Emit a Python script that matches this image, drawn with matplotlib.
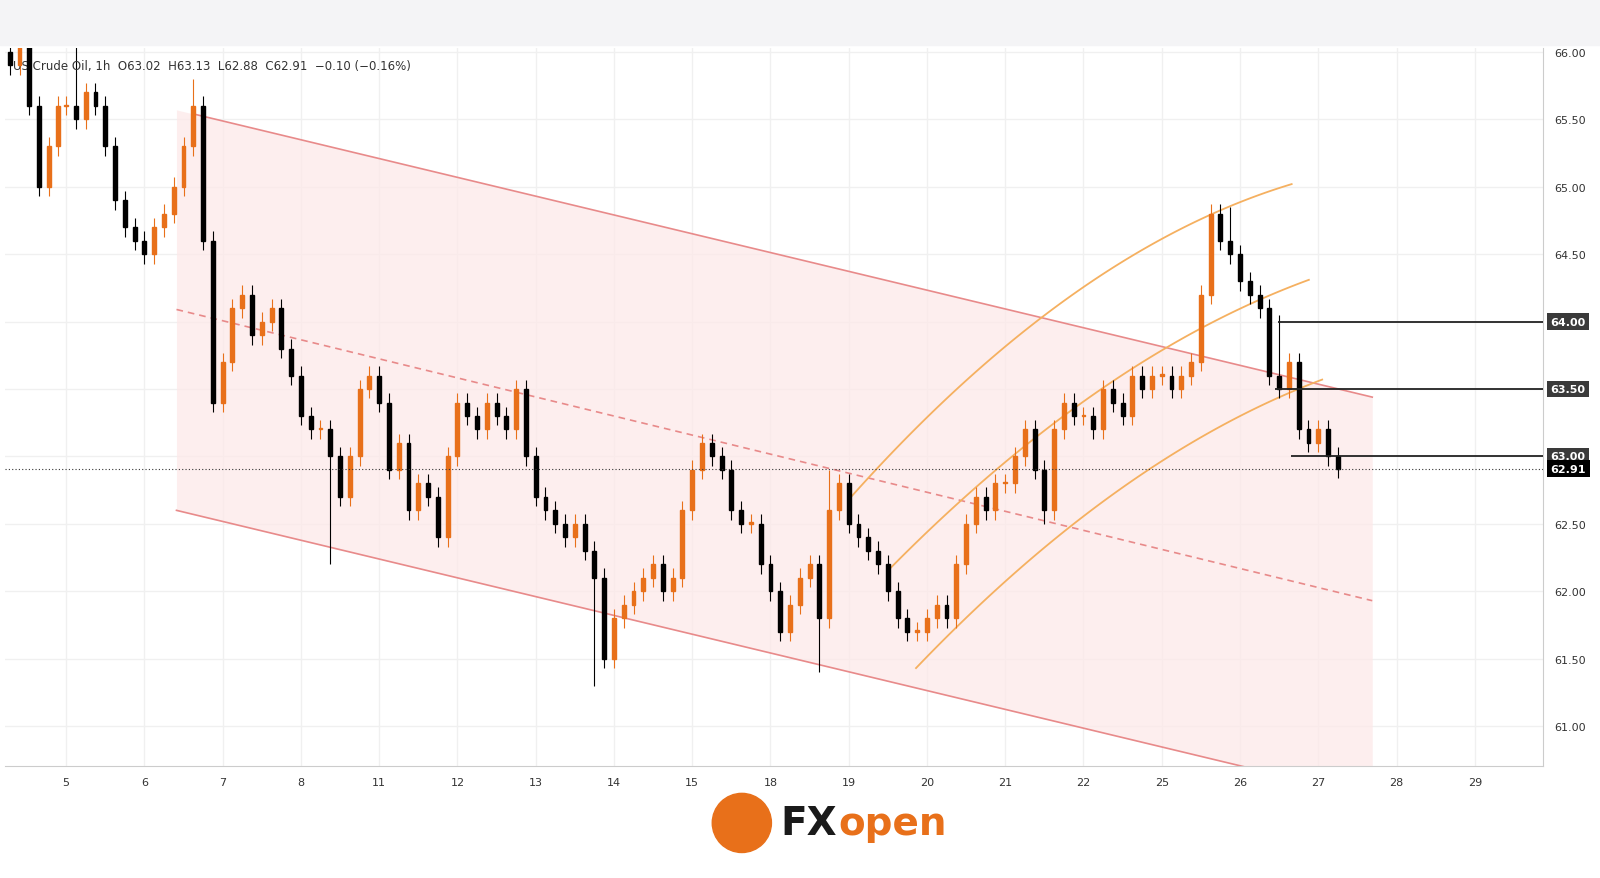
import numpy as np
import matplotlib.pyplot as plt
from matplotlib.patches import Rectangle, Ellipse

# closes, 8 candles per trading day; first candles belong to day before "5"
day_labels = ['5', '6', '7', '8', '11', '12', '13', '14', '15', '18', '19', '20', '21', '22', '25', '26', '27', '28', '29']
pre = [65.9, 66.1, 65.6, 65.0, 65.3, 65.6]
closes = [
    65.6, 65.5, 65.7, 65.6, 65.3, 64.9, 64.7, 64.6,
    64.5, 64.7, 64.8, 65.0, 65.3, 65.6, 64.6, 63.4,
    63.7, 64.1, 64.2, 63.9, 64.0, 64.1, 63.8, 63.6,
    63.3, 63.2, 63.2, 63.0, 62.7, 63.0, 63.5, 63.6,
    63.4, 62.9, 63.1, 62.6, 62.8, 62.7, 62.4, 63.0,
    63.4, 63.3, 63.2, 63.4, 63.3, 63.2, 63.5, 63.0,
    62.7, 62.6, 62.5, 62.4, 62.5, 62.3, 62.1, 61.5,
    61.8, 61.9, 62.0, 62.1, 62.2, 62.0, 62.1, 62.6,
    62.9, 63.1, 63.0, 62.9, 62.6, 62.5, 62.5, 62.2,
    62.0, 61.7, 61.9, 62.1, 62.2, 61.8, 62.6, 62.8,
    62.5, 62.4, 62.3, 62.2, 62.0, 61.8, 61.7, 61.7,
    61.8, 61.9, 61.8, 62.2, 62.5, 62.7, 62.6, 62.8,
    62.8, 63.0, 63.2, 62.9, 62.6, 63.2, 63.4, 63.3,
    63.3, 63.2, 63.5, 63.4, 63.3, 63.6, 63.5, 63.6,
    63.6, 63.5, 63.6, 63.7, 64.2, 64.8, 64.6, 64.5,
    64.3, 64.2, 64.1, 63.6, 63.5, 63.7, 63.2, 63.1,
    63.2, 63.0, 62.91,
]
spike_idx = [1, 13, 27, 54, 77, 78, 100, 119, 124]
spike_val = [66.3, 65.8, 62.2, 61.3, 61.4, 62.9, 62.5, 64.85, 64.05]

# upper / lower / mid of falling channel (day position, price)
up_x, up_y = [1.63, 16.69], [65.54, 63.44]
lo_x, lo_y = [1.41, 16.69], [62.60, 60.47]
mid_x, mid_y = [1.41, 16.69], [64.09, 61.93]
# rising curved channel, three points each
arc_x = [[10.0, 12.2, 15.66], [10.53, 12.84, 15.88], [10.86, 13.5, 16.05]]
arc_y = [[62.68, 63.91, 65.02], [62.17, 63.34, 64.31], [61.43, 62.77, 63.57]]
levels = [64.00, 63.50, 63.00]
level_x0 = [15.49, 15.45, 15.65]
last = 62.91

ORANGE = '#e8701a'
W, H = 1568, 862  # reference pixel frame used for layout fractions
allc = pre + closes
n_pre = len(pre)
xs = np.concatenate([np.linspace(-0.72, -0.1, n_pre), np.arange(len(closes)) / 8.0])
opens = [allc[0] + 0.1] + allc[:-1]
highs = [max(o, c) + 0.07 for o, c in zip(opens, allc)]
lows = [min(o, c) - 0.07 for o, c in zip(opens, allc)]
for i, v in zip(spike_idx, spike_val):
    j = i + n_pre
    if v > allc[j]:
        highs[j] = v
    else:
        lows[j] = v

fig = plt.figure(figsize=(16, 8.79), dpi=100)
fig.patches.append(Rectangle((0, 1 - 45 / H), 1, 45 / H, transform=fig.transFigure, color='#f4f4f6', zorder=0))
ax = fig.add_axes([5 / W, (H - 752) / H, 1507 / W, 704 / H])
ax.set_xlim(-0.78, 18.87)
ax.set_ylim(60.705, 66.03)

# channel fill
fx = np.array([1.41, 16.69])
uy = np.interp(fx, up_x, up_y, left=np.polyval(np.polyfit(up_x, up_y, 1), 1.41))
ly = np.interp(fx, lo_x, lo_y)
ax.fill_between(fx, ly, uy, color='#fde8e8', alpha=0.7, zorder=1, lw=0)
ax.plot(up_x, up_y, color='#e88a8a', lw=1.2, zorder=2)
ax.plot(lo_x, lo_y, color='#e88a8a', lw=1.2, zorder=2)
ax.plot(mid_x, mid_y, color='#e88a8a', lw=1.2, ls=(0, (4, 3)), zorder=2)
for ax_, ay_ in zip(arc_x, arc_y):
    p = np.polyfit(ax_, ay_, 2)
    t = np.linspace(ax_[0], ax_[-1], 100)
    ax.plot(t, np.polyval(p, t), color='#f5b060', lw=1.3, zorder=2)

for x, o, h, l, c in zip(xs, opens, highs, lows, allc):
    col = ORANGE if c >= o else 'black'
    ax.vlines(x, l, h, color=col, lw=0.8, zorder=3)
    ax.add_patch(Rectangle((x - 0.025, min(o, c)), 0.05, max(abs(c - o), 0.01), color=col, zorder=4))

for lv, x0 in zip(levels, level_x0):
    ax.hlines(lv, x0, 18.87, color='#222222', lw=1.3, zorder=5)
ax.axhline(last, color='#333333', lw=0.8, ls=(0, (1, 2)), zorder=5)

ax.set_xticks(range(len(day_labels)))
ax.set_xticklabels(day_labels)
yt = np.arange(61, 66.01, 0.5)
ax.set_yticks(yt)
ax.set_yticklabels(['' if round(v, 2) in levels else '%.2f' % v for v in yt])
ax.yaxis.tick_right()
ax.tick_params(length=0, labelsize=8, colors='#333333', pad=8)
ax.grid(color='#f0f0f0', lw=1)
ax.set_axisbelow(True)
for s in ['top', 'left']:
    ax.spines[s].set_visible(False)
for s in ['right', 'bottom']:
    ax.spines[s].set_color('#cccccc')

for lv, bg in zip(levels + [last], ['#3a3a3a'] * 3 + ['#000000']):
    ax.text(18.87 + 0.1, lv, '%.2f' % lv, transform=ax.transData, fontsize=8, color='white',
            fontweight='bold', va='center', ha='left', clip_on=False,
            bbox=dict(boxstyle='square,pad=0.3', fc=bg, ec='none'))

ax.text(0.005, 0.985, 'US Crude Oil, 1h  O63.02  H63.13  L62.88  C62.91  \u22120.10 (\u22120.16%)',
        transform=ax.transAxes, fontsize=8.5, color='#333333', va='top')

fig.patches.append(Ellipse((727 / W, 1 - 808 / H), 58 / W, 58 / H, transform=fig.transFigure,
                           color=ORANGE, zorder=5))
fig.text(765 / W, 1 - 808 / H, 'FX', fontsize=28, fontweight='bold', color='#1a1a1a', va='center')
fig.text(822 / W, 1 - 808 / H, 'open', fontsize=28, fontweight='bold', color=ORANGE, va='center')

fig.savefig('out.png', dpi=100)
